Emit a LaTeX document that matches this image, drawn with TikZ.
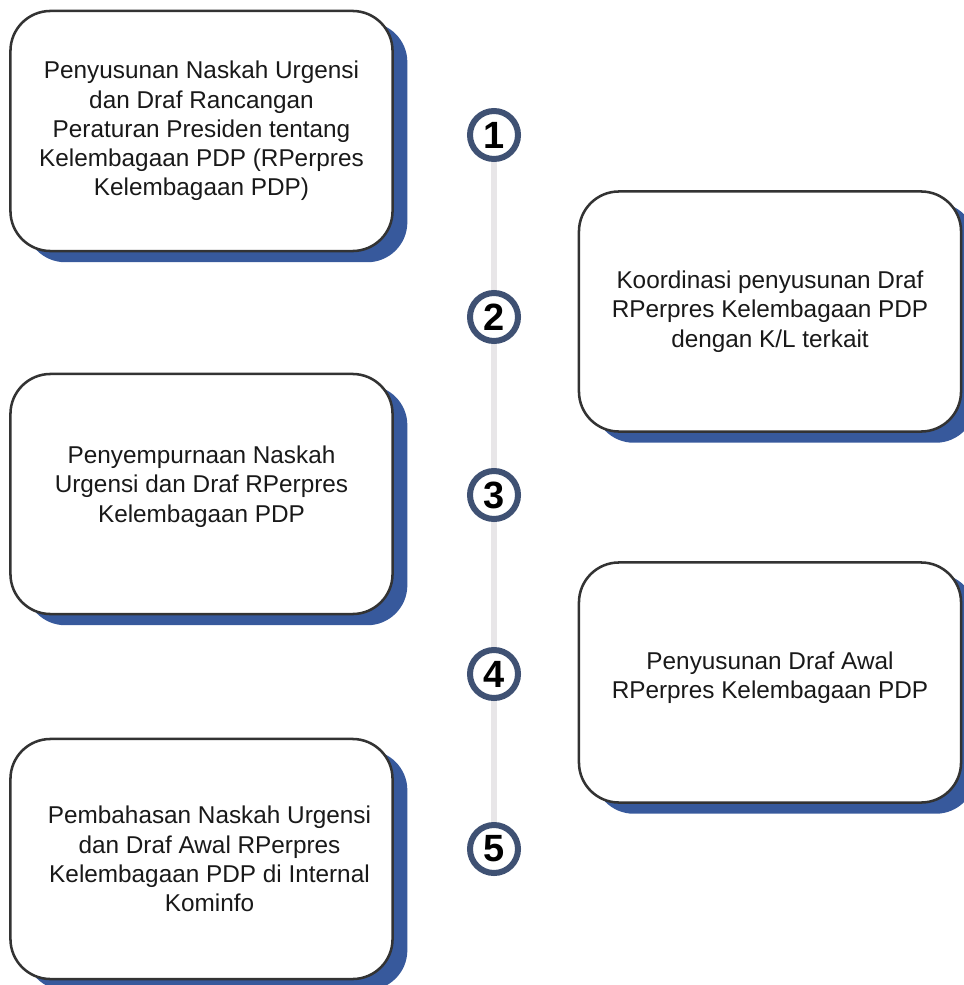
\documentclass[tikz,border=0pt]{standalone}
\usepackage{fontspec}
\setmainfont{Liberation Sans}
\usetikzlibrary{positioning,shadows,backgrounds}
\definecolor{stepblue}{HTML}{37599C}
\definecolor{ringblue}{HTML}{3F5173}
\definecolor{edgegray}{HTML}{333333}
\definecolor{railgray}{HTML}{E8E6E8}
\tikzset{
  card/.style={draw=edgegray, line width=1.8pt, rounded corners=1cm, fill=white,
               minimum width=9.55cm, minimum height=6cm, align=center,
               font=\fontsize{17.3}{20.8}\selectfont, text=black!90,
               drop shadow={shadow xshift=0.37cm, shadow yshift=-0.28cm,
                            fill=stepblue, opacity=1}},
  num/.style={circle, draw=ringblue, line width=0.15cm, fill=white,
              minimum size=1.2cm, inner sep=0pt,
              font=\fontsize{27}{27}\selectfont\bfseries},
  rail/.style={draw=railgray, line width=0.15cm},
}

\begin{document}
\begin{tikzpicture}[x=0.025cm, y=-0.025cm]
  \useasboundingbox (0,0) rectangle (964,985);

  % left column
  \node[card] (s1) at (201.5,131) {Penyusunan Naskah Urgensi\\dan Draf Rancangan\\Peraturan Presiden tentang\\Kelembagaan PDP (RPerpres\\Kelembagaan PDP)};
  \node[card] (s3) at (201.5,494) {Penyempurnaan Naskah\\Urgensi dan Draf RPerpres\\Kelembagaan PDP\\[-0.23cm]};
  \node[card] (s5) at (201.5,859) {\hspace*{0.4cm}Pembahasan Naskah Urgensi\\\hspace*{0.4cm}dan Draf Awal RPerpres\\\hspace*{0.4cm}Kelembagaan PDP di Internal\\\hspace*{0.4cm}Kominfo};

  % right column
  \node[card] (s2) at (770,311.5) {Koordinasi penyusunan Draf\\RPerpres Kelembagaan PDP\\dengan K/L terkait};
  \node[card] (s4) at (770,682.5) {Penyusunan Draf Awal\\RPerpres Kelembagaan PDP\\[-0.38cm]};

  % timeline
  \node[num] (n1) at (494,135) {1};
  \node[num] (n2) at (494,317) {2};
  \node[num] (n3) at (494,495) {3};
  \node[num] (n4) at (494,674) {4};
  \node[num] (n5) at (494,849) {5};
  \begin{scope}[on background layer]
    \draw[rail] (n1) -- (n5);
  \end{scope}
\end{tikzpicture}
\end{document}
